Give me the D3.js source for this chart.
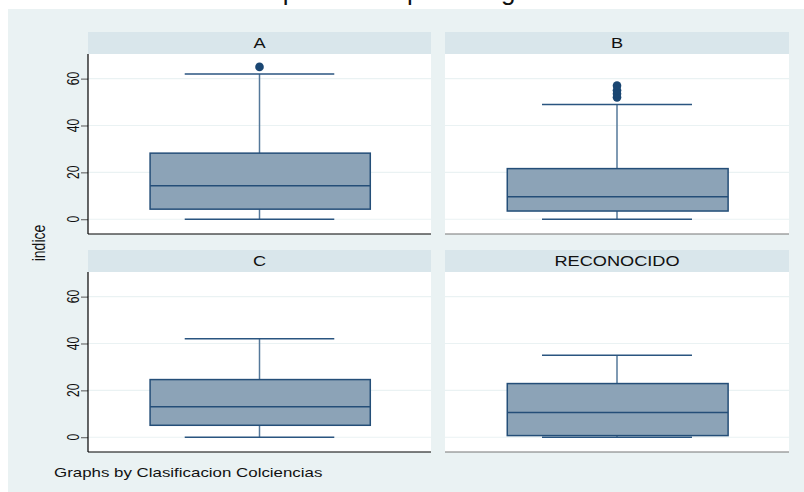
<!DOCTYPE html>
<html><head><meta charset="utf-8">
<script src="https://cdn.jsdelivr.net/npm/d3@7"></script>
<style>body{margin:0;background:#fff}svg{display:block}</style>
</head><body>
<script>
// ---- data ----
const categories = ["A", "B", "C", "RECONOCIDO"];
const lowerWhisker = [0, 0, 0, 0];
const q1 = [4.3, 3.5, 5.1, 0.7];
const median = [14.3, 9.6, 13, 10.6];
const q3 = [28.2, 21.6, 24.6, 22.9];
const upperWhisker = [62, 49, 42, 35];
const outliers = [[65], [52, 53.5, 55, 57], [], []];
const yTicks = [0, 20, 40, 60];
const yLabel = "indice";
const noteText = "Graphs by Clasificacion Colciencias";
const titleText = "Boxplot indice por categoria";

// ---- layout ----
const W = 804, H = 492, SX = 1.3;
const font = "Liberation Sans, Arial, sans-serif";
const svg = d3.select("body").append("svg").attr("width", W).attr("height", H);
svg.append("rect").attr("x", 8).attr("y", 9).attr("width", W - 8).attr("height", H - 9).attr("fill", "#EAF2F3");

function stext(parent, x, y, txt, size, anchor, rot, sx) {
  const s = sx === undefined ? SX : sx;
  const t = parent.append("g").attr("transform", `translate(${x},${y}) scale(${s},1)${rot ? " rotate(" + rot + ")" : ""}`)
    .append("text").attr("text-anchor", anchor).attr("font-family", font).attr("font-size", size).attr("fill", "#111").text(txt);
  return t;
}
stext(svg, 238, -0.5, titleText, 26, "start", 0, 1);

const cols = [[88, 431], [445, 789]];
const rows = [{strip: 32, top: 54, bottom: 234}, {strip: 250, top: 272, bottom: 452}];

categories.forEach((cat, i) => {
  const c = cols[i % 2], r = rows[Math.floor(i / 2)];
  const g = svg.append("g");
  g.append("rect").attr("x", c[0]).attr("y", r.strip).attr("width", c[1] - c[0]).attr("height", r.top - r.strip).attr("fill", "#D9E6EB");
  stext(g, (c[0] + c[1]) / 2, r.top - 6, cat, 14, "middle");
  g.append("rect").attr("x", c[0]).attr("y", r.top).attr("width", c[1] - c[0]).attr("height", r.bottom - r.top).attr("fill", "#fff");
  const y = d3.scaleLinear().domain([-6.3, 70.5]).range([r.bottom, r.top]);
  const x = d3.scaleLinear().domain([0, 1]).range(c);
  g.selectAll(".grid").data(yTicks).join("line")
    .attr("x1", c[0]).attr("x2", c[1]).attr("y1", d => y(d)).attr("y2", d => y(d))
    .attr("stroke", "#EAF2F3").attr("stroke-width", 1.2);
  if (i % 2 === 0) {
    const ax = g.append("g").attr("transform", `translate(${c[0]},0)`)
      .call(d3.axisLeft(y).tickValues(yTicks).tickSize(7).tickFormat(""));
    ax.select(".domain").remove();
    ax.selectAll(".tick line").attr("stroke", "#555");
    yTicks.forEach(v => {
      stext(g, c[0] - 14, y(v), d3.format("d")(v), 12, "middle", -90).attr("dy", "0.35em");
    });
    g.append("line").attr("x1", c[0]).attr("x2", c[0]).attr("y1", r.top).attr("y2", r.bottom).attr("stroke", "#000").attr("stroke-width", 1.2);
  }
  g.append("line").attr("x1", c[0]).attr("x2", c[1]).attr("y1", r.bottom).attr("y2", r.bottom).attr("stroke", i % 2 === 0 ? "#000" : "#777").attr("stroke-width", 1.2);

  const cx = x(0.5);
  g.append("line").attr("x1", cx).attr("x2", cx).attr("y1", y(upperWhisker[i])).attr("y2", y(q3[i])).attr("stroke", "#55789A").attr("stroke-width", 1.5);
  g.append("line").attr("x1", cx).attr("x2", cx).attr("y1", y(q1[i])).attr("y2", y(lowerWhisker[i])).attr("stroke", "#55789A").attr("stroke-width", 1.5);
  [upperWhisker[i], lowerWhisker[i]].forEach(v => {
    g.append("line").attr("x1", x(0.282)).attr("x2", x(0.718)).attr("y1", y(v)).attr("y2", y(v)).attr("stroke", "#2A5580").attr("stroke-width", 1.5);
  });
  g.append("rect").attr("x", x(0.181)).attr("width", x(0.823) - x(0.181))
    .attr("y", y(q3[i])).attr("height", y(q1[i]) - y(q3[i]))
    .attr("fill", "#8CA3B7").attr("stroke", "#244E78").attr("stroke-width", 1.5);
  g.append("line").attr("x1", x(0.181)).attr("x2", x(0.823)).attr("y1", y(median[i])).attr("y2", y(median[i])).attr("stroke", "#244E78").attr("stroke-width", 1.5);
  g.selectAll(".out").data(outliers[i]).join("circle")
    .attr("cx", cx).attr("cy", d => y(d)).attr("r", 4.3).attr("fill", "#1A4672");
});

stext(svg, 45, 243, yLabel, 14, "middle", -90);
stext(svg, 54, 477, noteText, 13, "start");
</script>
</body></html>
